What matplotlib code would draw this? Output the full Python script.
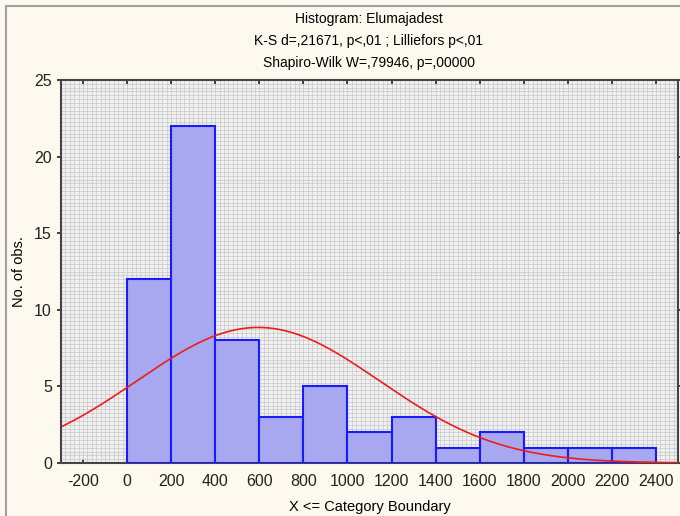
import numpy as np
import matplotlib.pyplot as plt
from matplotlib.patches import Rectangle
from matplotlib.ticker import MultipleLocator

plt.rcParams['font.family'] = ['Liberation Sans', 'DejaVu Sans']
plt.rcParams['axes.unicode_minus'] = False

bin_left = [0, 200, 400, 600, 800, 1000, 1200, 1400, 1600, 1800, 2000, 2200]
counts = [12, 22, 8, 3, 5, 2, 3, 1, 2, 1, 1, 1]
bin_width = 200
fit_mean = 595   # normal fit
fit_sd = 550
x_ticks = [-200, 0, 200, 400, 600, 800, 1000, 1200, 1400, 1600, 1800, 2000, 2200, 2400]
y_ticks = [0, 5, 10, 15, 20, 25]
title_lines = ["Histogram: Elumajadest",
               "K-S d=,21671, p<,01 ; Lilliefors p<,01",
               "Shapiro-Wilk W=,79946, p=,00000"]

fig = plt.figure(figsize=(6.8, 5.16), dpi=100)
fig.patch.set_facecolor('#fdf9ee')
# outer frame (only left/top visible in the original)
fig.patches.append(Rectangle((6/680, -0.1), 1.2, 1 - 6/516 + 0.1, transform=fig.transFigure,
                             fill=False, edgecolor='#a0a0a0', linewidth=1.5))

ax = fig.add_axes([61/680, 53/516, 617/680, 383/516])
ax.set_facecolor('#f0f0f0')

ax.bar(bin_left, counts, width=bin_width, align='edge', color='#a8a8f0',
       edgecolor='#1a1aff', linewidth=1.5, zorder=3)

n = sum(counts)
xs = np.linspace(-300, 2500, 400)
ys = n * bin_width / (fit_sd * np.sqrt(2 * np.pi)) * np.exp(-(xs - fit_mean) ** 2 / (2 * fit_sd ** 2))
ax.plot(xs, ys, color='#ee1c1c', linewidth=1.2, zorder=4)

ax.set_xlim(-300, 2500)
ax.set_ylim(0, 25)
ax.set_xticks(x_ticks)
ax.set_yticks(y_ticks)
ax.xaxis.set_minor_locator(MultipleLocator(20))
ax.yaxis.set_minor_locator(MultipleLocator(0.25))
ax.grid(which='both', color='#cdcdcd', linewidth=0.6, zorder=0)
ax.set_axisbelow(True)
ax.tick_params(which='minor', length=0)
ax.tick_params(which='major', direction='in', top=True, right=True, length=3,
               width=1.2, labelsize=11.5, colors='#222222')
ax.tick_params(axis='x', pad=8)
ax.tick_params(axis='y', direction='out')
for s in ax.spines.values():
    s.set_color('#444444')
    s.set_linewidth(1.5)

ax.set_xlabel("X <= Category Boundary", fontsize=10.5, labelpad=8)
ax.set_ylabel("No. of obs.", fontsize=10.5, labelpad=6)

for i, line in enumerate(title_lines):
    fig.text(369/680, 1 - (19 + i * 22) / 516, line, ha='center', va='center', fontsize=10)

fig.savefig('out.png', dpi=100, facecolor=fig.get_facecolor())
